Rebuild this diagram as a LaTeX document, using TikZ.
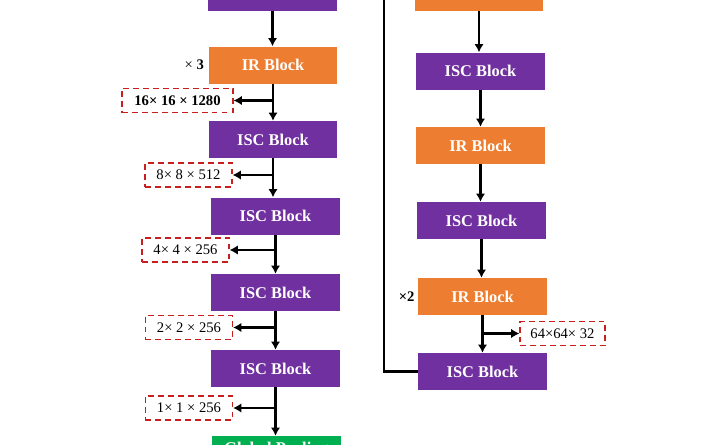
\documentclass[tikz,border=0pt]{standalone}
\usepackage{fontspec}
\setmainfont{Liberation Serif}
\usetikzlibrary{arrows.meta,positioning}

\definecolor{mpurple}{RGB}{112,48,160}
\definecolor{morange}{RGB}{237,125,49}
\definecolor{mgreen}{RGB}{0,176,80}
\definecolor{mred}{RGB}{200,30,30}
\newcommand*{\colISC}{mpurple}
\newcommand*{\colIR}{morange}
\newcommand*{\colPool}{mgreen}
\newcommand*{\colDim}{mred}
\newcommand*{\xLeft}{272.5}
\newcommand*{\xRight}{480.5}
\newcommand*{\xSkip}{384}
% shift a label inside its box without changing the box
\newcommand*{\shiftText}[2]{\raisebox{#1}[\height][\depth]{#2}}

\tikzset{
    block/.style={rectangle, fill=#1, text=white, inner sep=0pt,
        minimum width=3.84cm, minimum height=1.11cm,
        font=\fontsize{14}{16}\selectfont\bfseries},
    dimbox/.style={rectangle, draw=\colDim, dash pattern=on 5pt off 3.5pt,
        line width=1pt, minimum height=0.72cm, minimum width=2.61cm,
        inner sep=2pt, font=\fontsize{12.5}{14}\selectfont},
    flow/.style={-{Latex[length=7pt,width=8pt]}, line width=2.1pt},
    rep/.style={font=\fontsize{12.5}{14}\selectfont\bfseries, inner sep=1pt},
}

\begin{document}
\begin{tikzpicture}[x=0.03cm, y=-0.03cm]

    \useasboundingbox (0,0) rectangle (716,445);
    \clip (0,0) rectangle (716,445);

    % left column
    \node [block=\colISC] (L0) at (\xLeft,-7.5) {\shiftText{-1.2pt}{ISC Block}};
    \node [block=\colIR] (L1) at (273,65) {IR Block};
    \node [block=\colISC] (L2) at (273,139.5) {ISC Block};
    \node [block=\colISC] (L3) at (275.5,216) {ISC Block};
    \node [block=\colISC] (L4) at (275.5,292.5) {ISC Block};
    \node [block=\colISC] (L5) at (275.5,368.5) {ISC Block};
    \node [block=\colPool] (L6) at (276.5,454.5) {\shiftText{3.8pt}{Global Pooling}};
    \node [rep, left=3pt of L1] (rep3) {\mdseries× \bfseries 3};

    \node [dimbox, minimum width=3.33cm] (D1) at (177.5,100.5) {\bfseries 16× 16 × 1280};
    \node [dimbox] (D2) at (188.5,175) {8× 8 × 512};
    \node [dimbox] (D3) at (185.5,250) {4× 4 × 256};
    \node [dimbox] (D4) at (189,327.5) {2× 2 × 256};
    \node [dimbox] (D5) at (189,408) {1× 1 × 256};

    \draw [flow] (L0.south) -- (L0.south |- L1.north);
    \foreach \a/\b/\d in {L1/L2/D1, L2/L3/D2, L3/L4/D3, L4/L5/D4, L5/L6/D5} {
        \draw [flow] (\a.south) -- (\a.south |- \b.north);
        \draw [flow] (\a.south |- \d) -- (\d.east);
    }

    % right column
    \node [block=\colIR] (R0) at (479,-7.5) {};
    \node [block=\colISC] (R1) at (\xRight,71) {ISC Block};
    \node [block=\colIR] (R2) at (\xRight,145.5) {IR Block};
    \node [block=\colISC] (R3) at (481.5,220.5) {ISC Block};
    \node [block=\colIR] (R4) at (482.5,296.5) {IR Block};
    \node [block=\colISC] (R5) at (482.5,371.5) {ISC Block};
    \node [rep, left=2pt of R4] (rep2) {×2};

    \node [dimbox, minimum width=2.55cm] (D6) at (562.5,333.5) {64×64× 32};

    \foreach \a/\b in {R0/R1, R1/R2, R2/R3, R3/R4, R4/R5} {
        \draw [flow] (\a.south) -- (\a.south |- \b.north);
    }
    \draw [flow] (R4.south |- D6) -- (D6.west);

    % skip connection
    \coordinate (skip) at (\xSkip,-10);
    \draw [line width=2.1pt] (skip) |- (R5.west);

\end{tikzpicture}
\end{document}
